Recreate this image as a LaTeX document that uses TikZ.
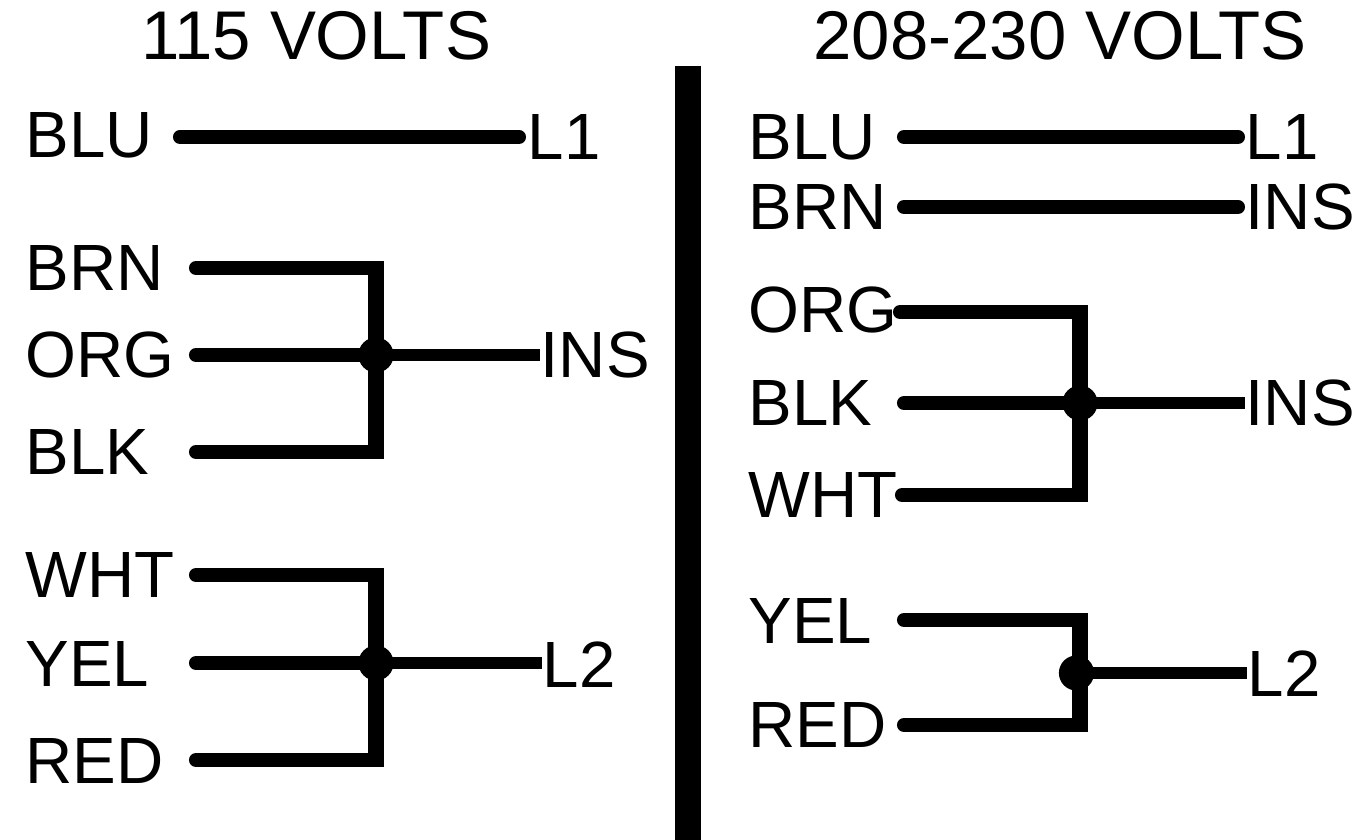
\documentclass[tikz,border=0pt]{standalone}
\usepackage{fontspec}
\setmainfont{Liberation Sans}
\begin{document}
\begin{tikzpicture}[x=0.01cm,y=-0.01cm,
  lbl/.style={font=\fontsize{18.6}{20}\selectfont, inner sep=0pt, anchor=base west},
  ttl/.style={font=\fontsize{19.6}{21}\selectfont, inner sep=0pt, anchor=base},
  wire/.style={line width=4pt, line cap=round},
  vwire/.style={line width=4.8pt, shorten <=-2pt, shorten >=-2pt},
  branch/.style={line width=3.4pt},
  jdot/.style={circle, fill, inner sep=0pt, minimum size=10pt}]
\useasboundingbox (0,0) rectangle (1357,840);
% titles
\node[ttl] (t1) at (316,60) {115 VOLTS};
\node[ttl] (t2) at (1060,60) {208-230 VOLTS};
% divider
\draw[line width=7.4pt] (688,66) coordinate (dtop) -- (688,840) coordinate (dbot);
% ---------- left: 115 V ----------
\node[lbl] (bluA) at (25,158) {BLU};
\node[lbl] (brnA) at (25,291) {BRN};
\node[lbl] (orgA) at (25,378) {ORG};
\node[lbl] (blkA) at (25,475) {BLK};
\node[lbl] (whtA) at (25,598) {WHT};
\node[lbl] (yelA) at (25,686) {YEL};
\node[lbl] (redA) at (25,783) {RED};
\node[lbl] (l1A) at (527,160) {L1};
\node[lbl] (insA) at (540,378) {INS};
\node[lbl] (l2A) at (542,688) {L2};
\coordinate (bluAs) at (180,137);
\coordinate (bluAe) at (519,137);
\coordinate (brnAs) at (196,268);
\coordinate (orgAs) at (196,355);
\coordinate (blkAs) at (196,452);
\coordinate (jA) at (376,355);
\coordinate (whtAs) at (196,575);
\coordinate (yelAs) at (196,663);
\coordinate (redAs) at (196,760);
\coordinate (jB) at (376,663);
\draw[wire] (bluAs) -- (bluAe);
\draw[wire] (brnAs) -- (brnAs -| jA);
\draw[wire] (orgAs) -- (jA);
\draw[wire] (blkAs) -- (blkAs -| jA);
\draw[vwire] (jA |- brnAs) -- (jA |- blkAs);
\draw[branch] (jA) -- (jA -| insA.west);
\node[jdot] (dA) at (jA) {};
\draw[wire] (whtAs) -- (whtAs -| jB);
\draw[wire] (yelAs) -- (jB);
\draw[wire] (redAs) -- (redAs -| jB);
\draw[vwire] (jB |- whtAs) -- (jB |- redAs);
\draw[branch] (jB) -- (jB -| l2A.west);
\node[jdot] (dB) at (jB) {};
% ---------- right: 208-230 V ----------
\node[lbl] (bluB) at (748,160) {BLU};
\node[lbl] (brnB) at (748,230) {BRN};
\node[lbl] (orgB) at (748,333) {ORG};
\node[lbl] (blkB) at (748,426) {BLK};
\node[lbl] (whtB) at (748,518) {WHT};
\node[lbl] (yelB) at (748,643) {YEL};
\node[lbl] (redB) at (748,748) {RED};
\node[lbl] (l1B) at (1245,160) {L1};
\node[lbl] (insB) at (1245,230) {INS};
\node[lbl] (insC) at (1245,426) {INS};
\node[lbl] (l2B) at (1247,697) {L2};
\coordinate (bluBs) at (904,137);
\coordinate (bluBe) at (1238,137);
\coordinate (brnBs) at (904,207);
\coordinate (brnBe) at (1238,207);
\coordinate (orgBs) at (900,312);
\coordinate (blkBs) at (904,403);
\coordinate (whtBs) at (902,495);
\coordinate (jC) at (1080,403);
\coordinate (yelBs) at (904,620);
\coordinate (redBs) at (904,725);
\coordinate (jD) at (1080,673);
\draw[wire] (bluBs) -- (bluBe);
\draw[wire] (brnBs) -- (brnBe);
\draw[wire] (orgBs) -- (orgBs -| jC);
\draw[wire] (blkBs) -- (jC);
\draw[wire] (whtBs) -- (whtBs -| jC);
\draw[vwire] (jC |- orgBs) -- (jC |- whtBs);
\draw[branch] (jC) -- (jC -| insC.west);
\node[jdot] (dC) at (jC) {};
\draw[wire] (yelBs) -- (yelBs -| jD);
\draw[wire] (redBs) -- (redBs -| jD);
\draw[vwire] (jD |- yelBs) -- (jD |- redBs);
\draw[branch] (jD) -- (jD -| l2B.west);
\node[jdot] (dD) at ([xshift=-1]jD) {};
\end{tikzpicture}
\end{document}
